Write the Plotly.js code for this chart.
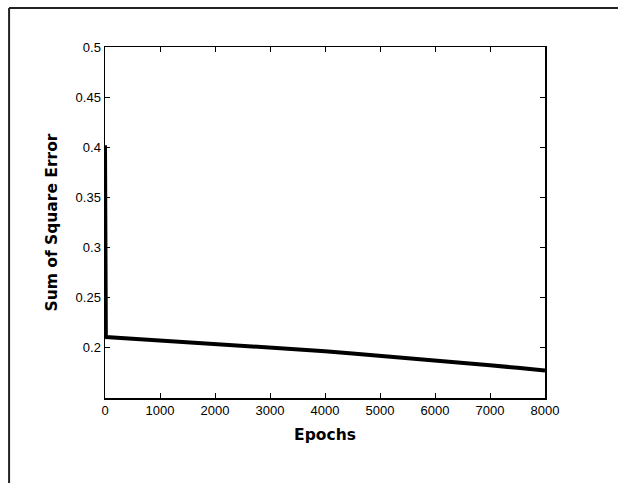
<!DOCTYPE html>
<html>
<head>
<meta charset="utf-8">
<script src="https://cdn.plot.ly/plotly-3.0.1.min.js"></script>
<style>html,body{margin:0;padding:0;background:#fff;}#chart{width:618px;height:483px;}</style>
</head>
<body>
<div id="chart"></div>
<script>
const epochs = [0, 15, 500, 1000, 1500, 2000, 2500, 3000, 3500, 4000, 4500, 5000, 5500, 6000, 6500, 7000, 7500, 8000];
const sse    = [0.402, 0.2108, 0.2092, 0.2075, 0.2058, 0.2040, 0.2023, 0.2005, 0.1986, 0.1966, 0.1944, 0.1922, 0.1899, 0.1876, 0.1851, 0.1826, 0.1801, 0.1775];
const xTicks = [0, 1000, 2000, 3000, 4000, 5000, 6000, 7000, 8000];
const yTicks = [0.2, 0.25, 0.3, 0.35, 0.4, 0.45, 0.5];

const tickFont = {family: 'Liberation Sans', size: 13, color: '#000'};
const titleFont = {family: 'DejaVu Sans', size: 15.5, color: '#000', weight: 'bold'};

const trace = {
  x: epochs, y: sse, type: 'scatter', mode: 'lines',
  line: {color: '#000', width: 4}, showlegend: false, hoverinfo: 'skip'
};

const layout = {
  width: 618, height: 483,
  margin: {l: 105, r: 73, t: 47, b: 85},
  paper_bgcolor: '#fff', plot_bgcolor: '#fff',
  xaxis: {
    range: [0, 8000], tickvals: xTicks, ticktext: xTicks.map(String),
    ticks: 'inside', ticklen: 5, tickwidth: 1, tickcolor: '#000',
    showline: true, linecolor: '#000', linewidth: 1.5, mirror: 'ticks',
    showgrid: false, zeroline: false, tickfont: tickFont,
    title: {text: 'Epochs', font: titleFont, standoff: 12}
  },
  yaxis: {
    range: [0.15, 0.5], tickvals: yTicks, ticktext: yTicks.map(String),
    ticks: 'inside', ticklen: 5, tickwidth: 1, tickcolor: '#000',
    showline: true, linecolor: '#000', linewidth: 1.5, mirror: 'ticks',
    showgrid: false, zeroline: false, tickfont: tickFont,
    title: {text: 'Sum of Square Error', font: titleFont, standoff: 14}
  },
  shapes: [
    {type: 'line', xref: 'paper', yref: 'paper', x0: -0.218, x1: -0.218, y0: -0.3, y1: 1.111, line: {color: '#222', width: 2}},
    {type: 'line', xref: 'paper', yref: 'paper', x0: -0.218, x1: 1.3, y0: 1.111, y1: 1.111, line: {color: '#222', width: 2}}
  ]
};

Plotly.newPlot('chart', [trace], layout, {staticPlot: true, displayModeBar: false});
</script>
</body>
</html>
